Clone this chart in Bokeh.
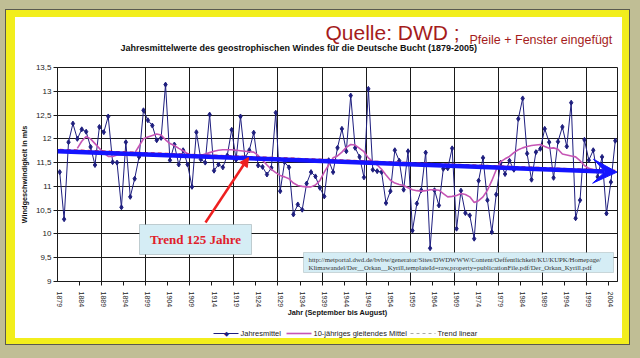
import math
from bokeh.plotting import figure
from bokeh.models import (Range1d, FixedTicker, BoxAnnotation, Label, Arrow,
                          VeeHead, NormalHead, Title, LinearAxis)
from bokeh.embed import file_html
from bokeh.resources import INLINE

# ---------------- data ----------------
years = list(range(1879, 2006))
jahresmittel = [
    11.30, 10.31, 11.93, 12.32, 12.00, 12.20, 12.15, 11.83, 11.45, 12.25,   # 1879-1888
    12.14, 12.47, 11.51, 11.50, 10.56, 11.93, 10.78, 11.16, 11.62, 12.60,   # 1889-1898
    12.39, 12.28, 11.97, 12.02, 13.14, 11.55, 11.88, 11.46, 11.76, 11.46,   # 1899-1908
    10.99, 12.14, 11.57, 11.50, 12.51, 11.33, 11.46, 11.40, 11.65, 12.19,   # 1909-1918
    11.56, 12.47, 11.60, 11.76, 12.13, 11.44, 11.41, 11.25, 11.39, 12.55,   # 1919-1928
    10.90, 11.51, 11.40, 10.41, 10.62, 10.51, 11.06, 11.30, 11.21, 10.97,   # 1929-1938
    10.79, 11.55, 11.30, 11.81, 12.21, 11.74, 12.91, 11.81, 11.62, 11.19,   # 1939-1948
    13.05, 11.35, 11.32, 11.30, 10.65, 10.90, 11.76, 11.54, 10.93, 11.74,   # 1949-1958
    10.07, 10.64, 10.92, 11.71, 9.70, 10.92, 10.60, 11.37, 11.38, 11.80,    # 1959-1968
    10.11, 10.91, 10.44, 10.39, 9.90, 11.12, 11.60, 10.71, 10.04, 10.83,    # 1969-1978
    11.50, 11.26, 11.54, 11.35, 12.42, 12.85, 11.69, 11.14, 11.72, 11.79,   # 1979-1988
    12.21, 11.93, 11.18, 11.94, 12.25, 11.84, 12.76, 10.33, 10.71, 11.98,   # 1989-1998
    11.55, 11.76, 11.20, 11.62, 10.43, 11.09, 11.96,                        # 1999-2005
]

ma_years = list(range(1883, 2001))
ma_values = [
    11.80, 11.95, 12.05, 12.00, 11.90, 11.80, 11.70, 11.63, 11.63, 11.66,   # 1883-1892
    11.66, 11.65, 11.66, 11.70, 11.85, 12.00, 12.04, 12.07, 12.10, 12.08,   # 1893-1902
    11.98, 11.90, 11.86, 11.80, 11.75, 11.69, 11.65, 11.62, 11.65, 11.68,   # 1903-1912
    11.71, 11.74, 11.76, 11.77, 11.77, 11.77, 11.76, 11.75, 11.74, 11.73,   # 1913-1922
    11.72, 11.65, 11.55, 11.45, 11.36, 11.29, 11.23, 11.20, 11.16, 11.07,   # 1923-1932
    11.02, 11.00, 10.99, 10.99, 11.03, 11.12, 11.30, 11.45, 11.60, 11.64,   # 1933-1942
    11.72, 11.82, 11.88, 11.87, 11.80, 11.73, 11.60, 11.52, 11.45, 11.36,   # 1943-1952
    11.24, 11.13, 11.07, 11.04, 11.02, 10.97, 10.93, 10.91, 10.90, 10.91,   # 1953-1962
    10.93, 10.93, 10.92, 10.85, 10.78, 10.79, 10.81, 10.85, 10.83, 10.78,   # 1963-1972
    10.66, 10.70, 10.78, 10.92, 11.12, 11.35, 11.52, 11.58, 11.63, 11.71,   # 1973-1982
    11.77, 11.81, 11.84, 11.86, 11.87, 11.88, 11.84, 11.80, 11.81, 11.78,   # 1983-1992
    11.68, 11.66, 11.64, 11.62, 11.54, 11.44, 11.38, 11.35,                 # 1993-2000
]

trend_years = [1879, 2005]
trend_values = [11.77, 11.33]

arrow_years = [1878.5, 2005.4]
arrow_values = [11.74, 11.30]

y_ticks = [9, 9.5, 10, 10.5, 11, 11.5, 12, 12.5, 13, 13.5]
y_tick_labels = ["9", "9,5", "10", "10,5", "11", "11,5", "12", "12,5", "13", "13,5"]
x_label_years = list(range(1879, 2005, 5))
x_grid_pos = [1888.5 + 10 * k for k in range(12)]
x_minor_pos = [1883.5 + 5 * k for k in range(25)]

title_text = "Jahresmittelwerte des geostrophischen Windes für die Deutsche Bucht (1879-2005)"
source_text = "Quelle: DWD ;"
note_text = "Pfeile + Fenster eingefügt"
y_title = "Windgeschwindigkeit in m/s"
x_title = "Jahr (September bis August)"
legend_labels = ["Jahresmittel", "10-jähriges gleitendes Mittel", "Trend linear"]
url_line1 = "http://metportal.dwd.de/bvbw/generator/Sites/DWDWWW/Content/Oeffentlichkeit/KU/KUPK/Homepage/"
url_line2 = "Klimawandel/Der__Orkan__Kyrill,templateId=raw,property=publicationFile.pdf/Der_Orkan_Kyrill.pdf"

# ---------------- layout (page pixels; the figure starts at the page corner) ----------------
W, H = 640, 358
FL, FR, FT, FB = 57, 617, 67, 281   # plot-area edges

def sx(x):
    return x - FL

def sy(y):
    return FB - y

def xdata(px):
    return 1878.5 + (px - FL) * 127.0 / (FR - FL)

SANS = "Liberation Sans"
SERIF = "Liberation Serif"
NAVY = "#1e1e7e"
PINK = "#c655b5"
RED = "#ee2020"
BLUE = "#1414ff"
YEL = "#f2ee1c"
OLIVE = "#c0be95"
DARK = "#5a5a50"

p = figure(width=W, height=H,
           x_range=Range1d(1878.5, 2005.5), y_range=Range1d(9, 13.5),
           output_backend="svg", toolbar_location=None,
           min_border_left=FL, min_border_right=W - FR,
           min_border_top=FT, min_border_bottom=H - FB)

p.background_fill_color = "white"
p.border_fill_color = None
p.outline_line_color = "#1a1a1a"
p.outline_line_width = 1
p.title.visible = False

# page frame: white sheet, yellow border, olive surround (CSS on the figure element)
shadows = [
    f"inset 5px 0 0 0 {OLIVE}", f"inset 0 9px 0 0 {OLIVE}",
    f"inset -10px 0 0 0 {OLIVE}", f"inset 0 -13px 0 0 {OLIVE}",
    f"inset 6px 0 0 0 {DARK}", f"inset 0 10px 0 0 {DARK}",
    f"inset -11px 0 0 0 {DARK}", f"inset 0 -14px 0 0 {DARK}",
    f"inset 15px 0 0 0 {YEL}", f"inset 0 17px 0 0 {YEL}",
    f"inset -18px 0 0 0 {YEL}", f"inset 0 -20px 0 0 {YEL}",
]
p.styles = {"background-color": "white", "box-shadow": ", ".join(shadows)}

# grid
p.xgrid.ticker = FixedTicker(ticks=x_grid_pos)
p.ygrid.ticker = FixedTicker(ticks=y_ticks)
for g in (p.xgrid, p.ygrid):
    g.grid_line_color = "#1a1a1a"
    g.grid_line_width = 1

# axes
p.yaxis.ticker = FixedTicker(ticks=y_ticks)
p.yaxis.major_label_overrides = {t: l for t, l in zip(y_ticks, y_tick_labels)}
p.yaxis.major_tick_out = 4
p.yaxis.major_tick_in = 0
p.yaxis.minor_tick_out = 0
p.yaxis.minor_tick_in = 0
p.yaxis.major_label_standoff = 2
p.yaxis.major_label_text_font = SANS
p.yaxis.major_label_text_font_size = "8px"
p.yaxis.major_label_text_color = "#222222"
p.yaxis.axis_label = y_title
p.yaxis.axis_label_standoff = 4

p.xaxis.ticker = FixedTicker(ticks=x_label_years, minor_ticks=x_minor_pos)
p.xaxis.major_label_overrides = {y: str(y) for y in x_label_years}
p.xaxis.major_tick_out = 0
p.xaxis.major_tick_in = 0
p.xaxis.minor_tick_out = 4
p.xaxis.minor_tick_in = 0
p.xaxis.major_label_orientation = -math.pi / 2
p.xaxis.major_label_standoff = 6
p.xaxis.major_label_text_font = SANS
p.xaxis.major_label_text_font_size = "7px"
p.xaxis.major_label_text_color = "#222222"
p.xaxis.axis_label = x_title
p.xaxis.axis_label_standoff = -2

for ax in (p.xaxis, p.yaxis):
    ax.axis_line_color = "#1a1a1a"
    ax.major_tick_line_color = "#1a1a1a"
    ax.minor_tick_line_color = "#1a1a1a"
    ax.axis_label_text_font = SANS
    ax.axis_label_text_font_style = "bold"
    ax.axis_label_text_font_size = "7.3px"
    ax.axis_label_text_color = "#111111"

# series
p.line(years, jahresmittel, line_color=NAVY, line_width=1)
p.scatter(years, jahresmittel, marker="diamond", size=5, color=NAVY)
p.line(ma_years, ma_values, line_color=PINK, line_width=1.6)
p.line(trend_years, trend_values, line_color=RED, line_width=2, line_dash="4 3")

# added arrows
p.add_layout(Arrow(end=VeeHead(size=24, fill_color=BLUE, line_color=BLUE),
                   x_start=arrow_years[0], y_start=arrow_values[0],
                   x_end=arrow_years[1], y_end=arrow_values[1],
                   line_color=BLUE, line_width=4.5))
p.add_layout(Arrow(end=NormalHead(size=9, fill_color=RED, line_color=RED),
                   x_start=sx(205), y_start=sy(222), x_end=sx(248), y_end=sy(157),
                   start_units="screen", end_units="screen",
                   line_color=RED, line_width=2.5))

# boxes
p.add_layout(BoxAnnotation(left=sx(139), right=sx(251), top=sy(224), bottom=sy(254),
                           left_units="screen", right_units="screen",
                           top_units="screen", bottom_units="screen",
                           fill_color="#d5edf5", fill_alpha=1,
                           line_color="#5a6a70", line_width=1))
p.add_layout(Label(x=sx(195), y=sy(239), x_units="screen", y_units="screen",
                   text="Trend 125 Jahre", text_align="center", text_baseline="middle",
                   text_font=SERIF, text_font_style="bold", text_font_size="13px",
                   text_color="#e0202a"))

p.add_layout(BoxAnnotation(left=sx(303), right=sx(613), top=sy(252), bottom=sy(272),
                           left_units="screen", right_units="screen",
                           top_units="screen", bottom_units="screen",
                           fill_color="#d5edf5", fill_alpha=1,
                           line_color="#7a8a90", line_width=1))
for txt, yy in ((url_line1, 259), (url_line2, 267)):
    p.add_layout(Label(x=sx(308), y=sy(yy), x_units="screen", y_units="screen",
                       text=txt, text_align="left", text_baseline="middle",
                       text_font=SERIF, text_font_size="6.8px", text_color="#333333"))

# titles above the plot area (first added is nearest the frame)
p.add_layout(Title(text=" ", standoff=-3.5, text_font=SANS, text_font_size="8px"), "above")
p.add_layout(Title(text=title_text, align="left", offset=63, vertical_align="top",
                   standoff=7.8, text_font=SANS, text_font_style="bold",
                   text_font_size="9px", text_color="#111111"), "above")
p.add_layout(Title(text=note_text, align="left", offset=412, vertical_align="middle",
                   standoff=-16.2, text_font=SANS, text_font_style="normal",
                   text_font_size="12.5px", text_color="#a51c1c"), "above")
p.add_layout(Title(text=source_text, align="left", offset=268, vertical_align="middle",
                   standoff=-11.5, text_font=SANS, text_font_style="normal",
                   text_font_size="21px", text_color="#a51c1c"), "above")

# legend row below the axis title (spacer + zero-height rows)
p.add_layout(Title(text=" ", standoff=2, text_font=SANS, text_font_size="8px"), "below")
for (a, b), col, wdt, dash in (((213, 238), NAVY, 1, "solid"),
                               ((286, 311), PINK, 1.6, "solid"),
                               ((410, 435), "#a8a8a8", 1, "3 3")):
    ax = LinearAxis(bounds=(xdata(a), xdata(b)), ticker=FixedTicker(ticks=[]),
                    major_tick_out=0, major_tick_in=0, minor_tick_out=0, minor_tick_in=0,
                    major_label_standoff=0, axis_line_color=col, axis_line_width=wdt,
                    axis_line_dash=dash)
    p.add_layout(ax, "below")
p.add_layout(Title(text="◆", align="left", offset=226 - FL - 2.6, vertical_align="middle",
                   standoff=-10.6, text_font="DejaVu Sans", text_font_size="6.5px",
                   text_color=NAVY), "below")
for txt, xx in zip(legend_labels, (240, 313, 437)):
    p.add_layout(Title(text=txt, align="left", offset=xx - FL, vertical_align="middle",
                       standoff=-10.6, text_font=SANS, text_font_style="normal",
                       text_font_size="7.5px", text_color="#222222"), "below")

open("out.html", "w").write(file_html(p, INLINE))
